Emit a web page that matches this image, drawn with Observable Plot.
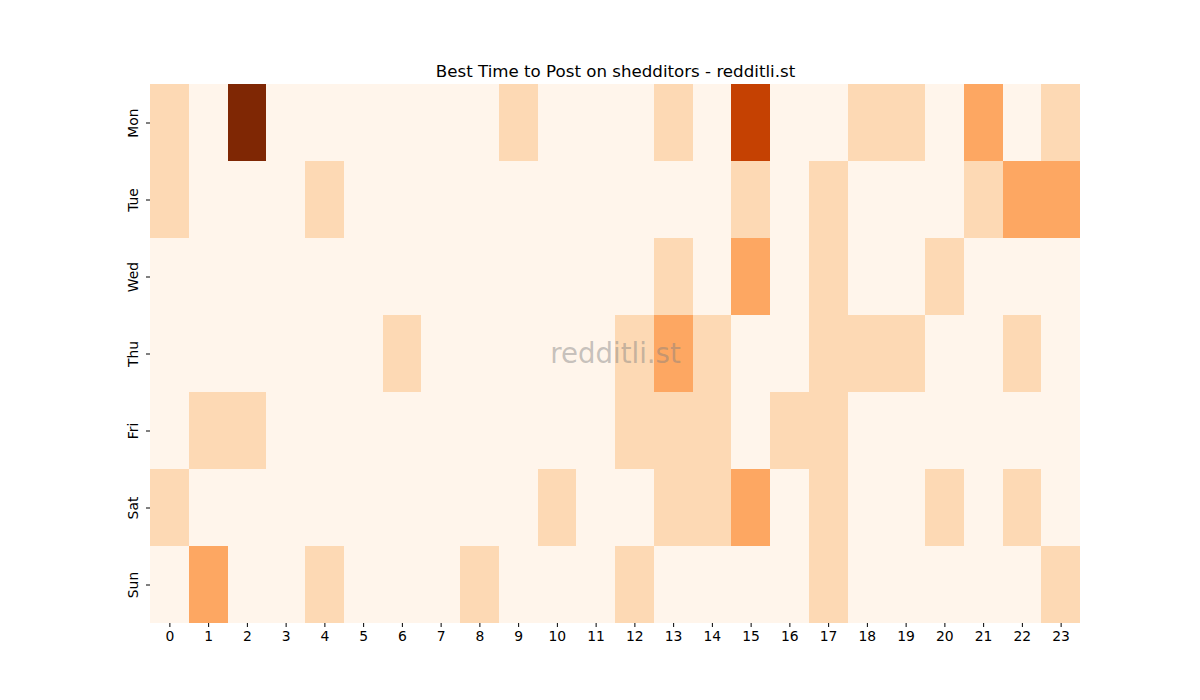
<!DOCTYPE html>
<html>
<head>
<meta charset="utf-8">
<script src="https://cdn.jsdelivr.net/npm/d3@7"></script>
<script src="https://cdn.jsdelivr.net/npm/@observablehq/plot@0.6"></script>
<style>
  html, body { margin: 0; padding: 0; background: #fff; }
  #chart svg { display: block; }
</style>
</head>
<body>
<div id="chart"></div>
<script>
const title = "Best Time to Post on shedditors - redditli.st";
const watermark = "redditli.st";
const days = ["Mon", "Tue", "Wed", "Thu", "Fri", "Sat", "Sun"];
const hours = d3.range(24).map(String);
// hour values 0..23 per day
const mon = [1,0,5,0,0,0,0,0,0,1,0,0,0,1,0,4,0,0,1,1,0,2,0,1];
const tue = [1,0,0,0,1,0,0,0,0,0,0,0,0,0,0,1,0,1,0,0,0,1,2,2];
const wed = [0,0,0,0,0,0,0,0,0,0,0,0,0,1,0,2,0,1,0,0,1,0,0,0];
const thu = [0,0,0,0,0,0,1,0,0,0,0,0,1,2,1,0,0,1,1,1,0,0,1,0];
const fri = [0,1,1,0,0,0,0,0,0,0,0,0,1,1,1,0,1,1,0,0,0,0,0,0];
const sat = [1,0,0,0,0,0,0,0,0,0,1,0,0,1,1,2,0,1,0,0,1,0,1,0];
const sun = [0,2,0,0,1,0,0,0,1,0,0,0,1,0,0,0,0,1,0,0,0,0,0,1];
const rows = [mon, tue, wed, thu, fri, sat, sun];
// matplotlib "Oranges" colormap stops
const oranges = ["#fff5eb","#fee6ce","#fdd0a2","#fdae6b","#fd8d3c","#f16913","#d94801","#a63603","#7f2704"];

const data = [];
rows.forEach((r, i) => r.forEach((v, h) => data.push({day: days[i], hour: String(h), value: v})));

const chart = Plot.plot({
  width: 1200,
  height: 700,
  marginLeft: 150,
  marginRight: 120,
  marginTop: 84,
  marginBottom: 77,
  style: {fontFamily: "DejaVu Sans, sans-serif", fontSize: "13.9px", background: "#fff", color: "#000"},
  x: {type: "band", domain: hours, padding: 0, round: false, label: null},
  y: {type: "band", domain: days, padding: 0, round: false, label: null},
  color: {type: "linear", domain: [0, 5], interpolate: d3.piecewise(d3.interpolateRgb, oranges)},
  marks: [
    Plot.cell(data, {x: "hour", y: "day", fill: "value", inset: 0, shapeRendering: "crispEdges"}),
    Plot.axisX({tickSize: 4, tickPadding: 4, label: null, fontSize: 13.9}),
    Plot.axisY({tickSize: 4, text: null, label: null}),
    Plot.text(days, {y: d => d, frameAnchor: "left", text: d => d, rotate: -90, textAnchor: "middle", dx: -17, fontSize: 13.9, fill: "#000"}),
    Plot.text([watermark], {frameAnchor: "middle", text: d => d, fontSize: 27.6, fill: "#808080", fillOpacity: 0.45}),
    Plot.text([title], {frameAnchor: "top", text: d => d, lineAnchor: "bottom", dy: -8, fontSize: 16.67, fill: "#000"})
  ]
});
document.getElementById("chart").appendChild(chart);
</script>
</body>
</html>
